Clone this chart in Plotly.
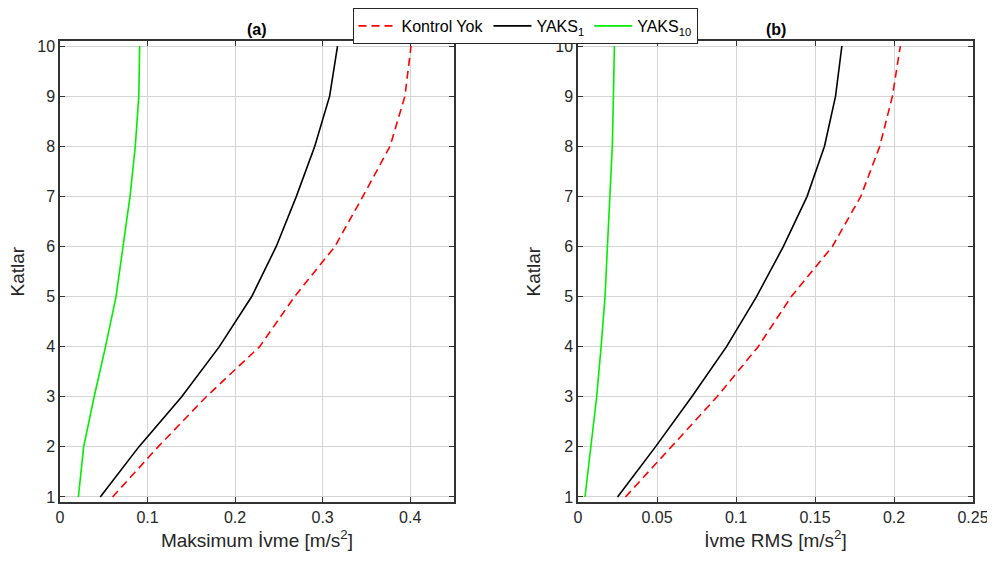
import plotly.graph_objects as go

katlar = [1, 2, 3, 4, 5, 6, 7, 8, 9, 10]

# (a) Maksimum ivme [m/s^2]
maks_kontrol_yok = [0.060, 0.112, 0.167, 0.228, 0.268, 0.314, 0.346, 0.377, 0.394, 0.401]
maks_yaks1 = [0.046, 0.090, 0.139, 0.182, 0.219, 0.247, 0.270, 0.291, 0.308, 0.317]
maks_yaks10 = [0.021, 0.027, 0.039, 0.052, 0.064, 0.072, 0.080, 0.086, 0.090, 0.091]

# (b) Ivme RMS [m/s^2]
rms_kontrol_yok = [0.030, 0.059, 0.088, 0.114, 0.135, 0.161, 0.179, 0.191, 0.199, 0.204]
rms_yaks1 = [0.025, 0.049, 0.072, 0.094, 0.113, 0.130, 0.145, 0.156, 0.163, 0.167]
rms_yaks10 = [0.0044, 0.0082, 0.0118, 0.0146, 0.0171, 0.0186, 0.0203, 0.0217, 0.0224, 0.0230]

names = ['Kontrol Yok', 'YAKS<sub>1</sub>', 'YAKS<sub>10</sub>']
colors = ['#ff0000', '#000000', '#00ee00']
dashes = ['8px,5px', 'solid', 'solid']

FONT = 'Liberation Sans'
W, H = 987, 566  # page body has an 8px margin
L, R, T, B = 52, 22, 33, 72
PW = W - L - R

fig = go.Figure()
for i, series in enumerate([maks_kontrol_yok, maks_yaks1, maks_yaks10]):
    fig.add_trace(go.Scatter(x=series, y=katlar, mode='lines', name=names[i],
                             line=dict(color=colors[i], width=1.6, dash=dashes[i]),
                             xaxis='x', yaxis='y'))
for i, series in enumerate([rms_kontrol_yok, rms_yaks1, rms_yaks10]):
    fig.add_trace(go.Scatter(x=series, y=katlar, mode='lines', name=names[i],
                             showlegend=False,
                             line=dict(color=colors[i], width=1.6, dash=dashes[i]),
                             xaxis='x2', yaxis='y2'))

axis_style = dict(showline=True, linecolor='#333333', linewidth=1.5, mirror='ticks',
                  ticks='inside', ticklen=5, tickcolor='#333333', tickwidth=1.2,
                  showgrid=True, gridcolor='#d4d4d4', gridwidth=1,
                  zeroline=False,
                  tickfont=dict(family=FONT, size=16, color='#262626'))
title_font = dict(family=FONT, size=19, color='#262626')

fig.update_layout(
    width=W, height=H,
    paper_bgcolor='white', plot_bgcolor='white',
    margin=dict(l=L, r=R, t=T, b=B, autoexpand=False),
    font=dict(family=FONT, size=16, color='#262626'),
    xaxis=dict(domain=[0, 0.4315], range=[0, 0.45], dtick=0.1,
               title=dict(text='Maksimum İvme [m/s<sup>2</sup>]', standoff=9,
                          font=title_font),
               **axis_style),
    yaxis=dict(domain=[0, 1], range=[0.9, 10.1], dtick=1, **axis_style),
    xaxis2=dict(domain=[0.5674, 1], range=[0, 0.25], dtick=0.05, anchor='y2',
                title=dict(text='İvme RMS [m/s<sup>2</sup>]', standoff=9,
                           font=title_font),
                **axis_style),
    yaxis2=dict(domain=[0, 1], range=[0.9, 10.1], dtick=1, anchor='x2',
                **axis_style),
    legend=dict(orientation='h', x=517 / W, xanchor='center', xref='container',
                y=1.0, yanchor='top', yref='container',
                bgcolor='white', bordercolor='#262626',
                borderwidth=1, font=dict(family=FONT, size=16, color='#000000'),
                itemwidth=38, tracegroupgap=0),
    annotations=[
        dict(text='<b>(a)</b>', x=0.2157, y=1.0, xref='paper', yref='paper',
             xanchor='center', yanchor='bottom', showarrow=False, yshift=1,
             font=dict(family=FONT, size=16, color='#000000')),
        dict(text='<b>(b)</b>', x=0.7837, y=1.0, xref='paper', yref='paper',
             xanchor='center', yanchor='bottom', showarrow=False, yshift=1,
             font=dict(family=FONT, size=16, color='#000000')),
        dict(text='Katlar', x=(9 - L) / PW, y=0.5, xref='paper', yref='paper',
             xanchor='center', yanchor='middle', showarrow=False, textangle=-90,
             font=title_font),
        dict(text='Katlar', x=(525 - L) / PW, y=0.5, xref='paper', yref='paper',
             xanchor='center', yanchor='middle', showarrow=False, textangle=-90,
             font=title_font),
    ],
)

fig.write_html('out.html')
